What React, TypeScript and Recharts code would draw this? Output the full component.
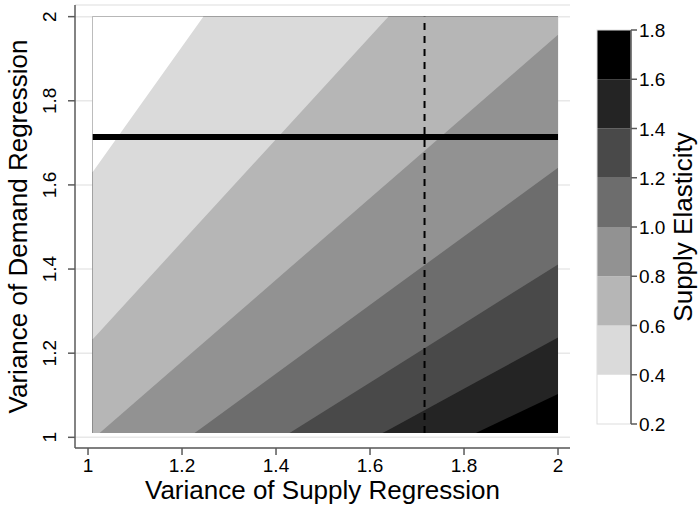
import { Area, CartesianGrid, ComposedChart, Label, ReferenceLine, XAxis, YAxis } from "recharts";

const xTicks = [1, 1.2, 1.4, 1.6, 1.8, 2];
const yTicks = [1, 1.2, 1.4, 1.6, 1.8, 2];
const colorbarTicks = [0.2, 0.4, 0.6, 0.8, 1.0, 1.2, 1.4, 1.6, 1.8];
// contour levels and where each level line sits (y at x = 1 and at x = 2)
const levels = [0.4, 0.6, 0.8, 1.0, 1.2, 1.4, 1.6];
const levelYAtX1 = [1.615, 1.221, 0.986, 0.825, 0.709, 0.629, 0.571];
const levelYAtX2 = [3.185, 2.44, 1.957, 1.641, 1.411, 1.237, 1.103];
// one grey per band 0.2-0.4 ... 1.6-1.8
const bandColors = ["#ffffff", "#dadada", "#b6b6b6", "#929292", "#6d6d6d", "#494949", "#242424", "#000000"];
const gridMin = 1.01;
const gridMax = 2;
const supplyVariance = 1.716;
const demandVariance = 1.714;

const FONT = "'Liberation Sans', Arial, sans-serif";
const AXIS = "#5a5a5a";

const lineAt = (i: number, x: number) => levelYAtX1[i] + (levelYAtX2[i] - levelYAtX1[i]) * (x - 1);
const clampY = (y: number) => Math.min(gridMax, Math.max(gridMin, y));

function buildTable() {
  const xs = [gridMin, gridMax];
  levels.forEach((_, i) => {
    const slope = levelYAtX2[i] - levelYAtX1[i];
    [gridMin, gridMax].forEach((edge) => {
      const x = 1 + (edge - levelYAtX1[i]) / slope;
      if (x > gridMin && x < gridMax) xs.push(x);
    });
  });
  xs.sort((a, b) => a - b);
  return xs.map((x) => {
    const row: { [key: string]: number | number[] } = { x, full: [gridMin, gridMax] };
    levels.forEach((_, i) => {
      row[`above${i}`] = [clampY(lineAt(i, x)), gridMax];
    });
    return row;
  });
}

const XTick = (props: any) => (
  <text x={props.x} y={props.y + 15} textAnchor="middle" fontSize={19} fontFamily={FONT} fill="#000">
    {String(props.payload.value)}
  </text>
);

const YTick = (props: any) => {
  const x = props.x - 10;
  return (
    <text x={x} y={props.y} transform={`rotate(-90 ${x} ${props.y})`} textAnchor="middle" fontSize={19} fontFamily={FONT} fill="#000">
      {String(props.payload.value)}
    </text>
  );
};

const Colorbar = () => {
  const top = 30;
  const bottom = 424;
  const left = 597;
  const right = 631;
  const toY = (v: number) => bottom - ((v - 0.2) / 1.6) * (bottom - top);
  const mid = (top + bottom) / 2;
  return (
    <svg width={699} height={508} style={{ position: "absolute", left: 0, top: 0, pointerEvents: "none" }}>
      {bandColors.map((c, i) => (
        <rect key={i} x={left} y={toY(colorbarTicks[i + 1])} width={right - left} height={toY(colorbarTicks[i]) - toY(colorbarTicks[i + 1])} fill={c} />
      ))}
      <rect x={left} y={top} width={right - left} height={bottom - top} fill="none" stroke="#dddddd" strokeWidth={1} />
      <line x1={right} y1={top} x2={right} y2={bottom} stroke={AXIS} strokeWidth={1.5} />
      {colorbarTicks.map((t) => (
        <g key={t}>
          <line x1={right} y1={toY(t)} x2={right + 6} y2={toY(t)} stroke={AXIS} strokeWidth={1.5} />
          <text x={right + 8} y={toY(t) + 7} fontSize={19} fontFamily={FONT} fill="#000">
            {t.toFixed(1)}
          </text>
        </g>
      ))}
      <text x={692} y={mid} transform={`rotate(-90 692 ${mid})`} textAnchor="middle" fontSize={26} fontFamily={FONT} fill="#000">
        Supply Elasticity
      </text>
    </svg>
  );
};

const App = () => {
  const table = buildTable();
  return (
    <div style={{ position: "absolute", left: 0, top: 0, width: 699, height: 508, background: "#fff" }}>
      <ComposedChart width={699} height={508} data={table} margin={{ top: 5, right: 129, bottom: 0, left: 0 }}>
        <CartesianGrid vertical={false} stroke="#e8e8e8" strokeWidth={1.5} />
        <XAxis
          type="number"
          dataKey="x"
          domain={[0.9723, 2.0255]}
          allowDataOverflow
          ticks={xTicks}
          interval={0}
          height={60}
          tickSize={7}
          axisLine={{ stroke: AXIS, strokeWidth: 1.5 }}
          tickLine={{ stroke: AXIS, strokeWidth: 1.5 }}
          tick={<XTick />}
        >
          <Label
            content={(p: any) => (
              <text x={p.viewBox.x + p.viewBox.width / 2} y={499} textAnchor="middle" fontSize={26} fontFamily={FONT} fill="#000">
                Variance of Supply Regression
              </text>
            )}
          />
        </XAxis>
        <YAxis
          type="number"
          domain={[0.9746, 2.0277]}
          allowDataOverflow
          ticks={yTicks}
          interval={0}
          width={75}
          tickSize={7}
          axisLine={{ stroke: AXIS, strokeWidth: 1.5 }}
          tickLine={{ stroke: AXIS, strokeWidth: 1.5 }}
          tick={<YTick />}
        >
          <Label
            content={(p: any) => {
              const cy = p.viewBox.y + p.viewBox.height / 2;
              return (
                <text x={27} y={cy} transform={`rotate(-90 27 ${cy})`} textAnchor="middle" fontSize={26} fontFamily={FONT} fill="#000">
                  Variance of Demand Regression
                </text>
              );
            }}
          />
        </YAxis>
        <Area dataKey="full" type="linear" stroke="none" fill={bandColors[7]} fillOpacity={1} isAnimationActive={false} dot={false} activeDot={false} />
        {levels
          .map((_, i) => i)
          .reverse()
          .map((i) => (
            <Area
              key={i}
              dataKey={`above${i}`}
              type="linear"
              stroke="none"
              fill={bandColors[i]}
              fillOpacity={1}
              isAnimationActive={false}
              dot={false}
              activeDot={false}
            />
          ))}
        <ReferenceLine
          segment={[
            { x: gridMin, y: demandVariance },
            { x: gridMax, y: demandVariance },
          ]}
          stroke="#000"
          strokeWidth={6}
        />
        <ReferenceLine
          segment={[
            { x: supplyVariance, y: gridMin },
            { x: supplyVariance, y: gridMax },
          ]}
          stroke="#000"
          strokeWidth={2}
          strokeDasharray="7 6"
        />
      </ComposedChart>
      <Colorbar />
    </div>
  );
};

export default App;
